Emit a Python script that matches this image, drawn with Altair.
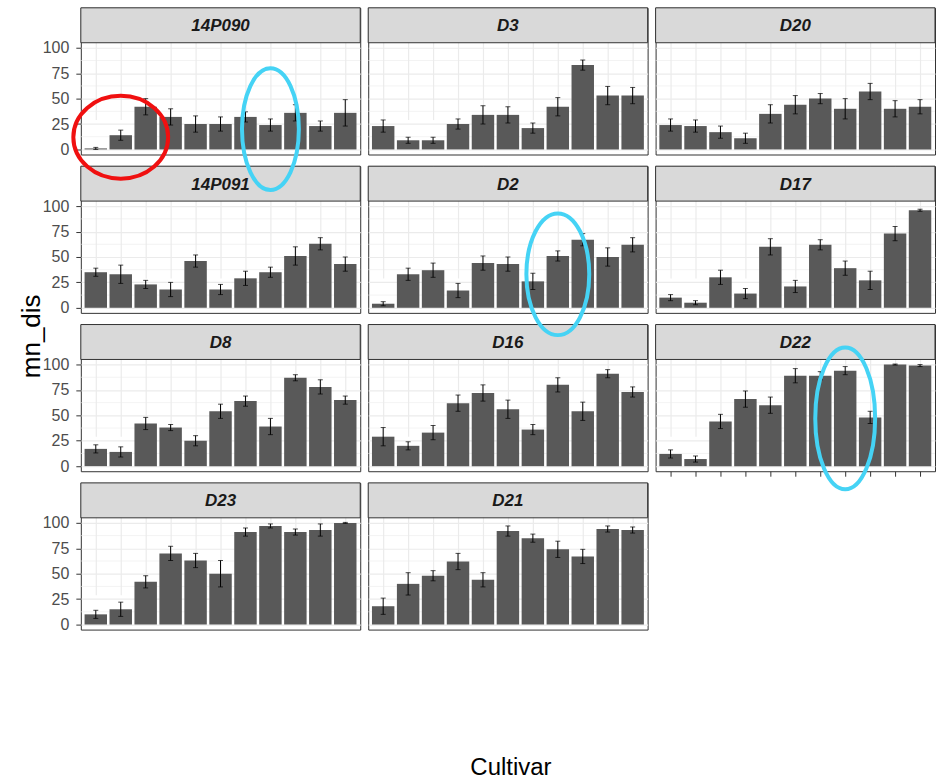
import altair as alt
import pandas as pd

# ---------------- data ----------------
cultivars = ["C01", "C02", "C03", "C04", "C05", "C06", "C07", "C08", "C09", "C10", "C11"]
panel_order = ["14P090", "D3", "D20", "14P091", "D2", "D17", "D8", "D16", "D22", "D23", "D21"]

mn_14P090 = [1, 14, 42, 32, 25, 25, 32, 24, 36, 23, 36]
se_14P090 = [1, 5, 8, 8, 8, 7, 5, 6, 8, 5, 13]
mn_D3 = [23, 9, 9, 25, 34, 34, 21, 42, 83, 53, 53]
se_D3 = [6, 3, 3, 5, 9, 8, 5, 9, 5, 9, 8]
mn_D20 = [24, 23, 17, 11, 35, 44, 50, 40, 57, 40, 42]
se_D20 = [6, 6, 6, 5, 9, 9, 5, 10, 8, 8, 7]
mn_14P091 = [35, 33, 23, 18, 46, 18, 29, 35, 51, 63, 43]
se_14P091 = [4, 9, 4, 7, 6, 5, 7, 5, 9, 6, 7]
mn_D2 = [4, 33, 37, 17, 44, 43, 26, 51, 67, 50, 62]
se_D2 = [2, 6, 7, 7, 7, 7, 8, 5, 6, 9, 7]
mn_D17 = [10, 5, 30, 14, 60, 21, 62, 39, 27, 73, 96]
se_D17 = [3, 2, 7, 5, 8, 6, 5, 7, 9, 7, 1]
mn_D8 = [17, 14, 42, 38, 25, 54, 64, 39, 87, 78, 65]
se_D8 = [4, 5, 6, 3, 5, 7, 5, 8, 3, 7, 4]
mn_D16 = [29, 20, 33, 62, 72, 56, 36, 80, 54, 91, 73]
se_D16 = [9, 4, 7, 8, 8, 9, 5, 7, 9, 4, 5]
mn_D22 = [12, 7, 44, 66, 60, 89, 89, 94, 48, 100, 99]
se_D22 = [4, 3, 7, 8, 8, 7, 4, 4, 6, 0.5, 1]
mn_D23 = [10, 15, 42, 70, 63, 50, 91, 97, 91, 93, 100]
se_D23 = [4, 7, 6, 7, 7, 13, 4, 2, 3, 6, 0.5]
mn_D21 = [18, 40, 48, 62, 44, 92, 85, 74, 67, 94, 93]
se_D21 = [8, 11, 5, 8, 7, 5, 4, 8, 7, 3, 3]

mn = {"14P090": mn_14P090, "D3": mn_D3, "D20": mn_D20, "14P091": mn_14P091,
      "D2": mn_D2, "D17": mn_D17, "D8": mn_D8, "D16": mn_D16, "D22": mn_D22,
      "D23": mn_D23, "D21": mn_D21}
se = {"14P090": se_14P090, "D3": se_D3, "D20": se_D20, "14P091": se_14P091,
      "D2": se_D2, "D17": se_D17, "D8": se_D8, "D16": se_D16, "D22": se_D22,
      "D23": se_D23, "D21": se_D21}

major_breaks = [0, 25, 50, 75, 100]
minor_breaks = [12.5, 37.5, 62.5, 87.5]

# hand-drawn highlight ellipses: (panel, cultivar, centre value)
ellipse_panel = ["14P090", "14P090", "D2", "D22"]
ellipse_cultivar = ["C02", "C08", "C08", "C08"]
ellipse_value = [12, 20, 33, 47]

# ---------------- style / layout ----------------
W, PH, SH = 280, 112, 35
CH = PH + SH
COLGAP, ROWGAP = 8, 11.7
Y_DOMAIN = [-5, 105]
PX_PER_UNIT = PH / (Y_DOMAIN[1] - Y_DOMAIN[0])
FONT = "Liberation Sans"
BAR = "#595959"
GRID = "#EBEBEB"
BORDER = "#333333"
ellipse_style = [  # width px, height px, colour
    (95, 83, "#F01010"),
    (57, 122, "#45D3F5"),
    (63, 122, "#45D3F5"),
    (60, 142, "#45D3F5"),
]


def ellipse_path(w, h):
    m = max(w, h)
    a, b = w / m, h / m
    k = 0.5523
    return (f"M {a} 0 C {a} {k*b} {k*a} {b} 0 {b} C {-k*a} {b} {-a} {k*b} {-a} 0 "
            f"C {-a} {-k*b} {-k*a} {-b} 0 {-b} C {k*a} {-b} {a} {-k*b} {a} 0 Z")


# The ellipses overlap the strip of the panel below; to keep them on top they are
# rendered by the panel directly below (same column, same x scale), with the centre
# value shifted by exactly one row of the layout.
def ellipse_host(i):
    idx = panel_order.index(ellipse_panel[i])
    below = idx + 3
    if below < len(panel_order):
        shift = (CH + ROWGAP) / PX_PER_UNIT
        return panel_order[below], ellipse_value[i] + shift
    return ellipse_panel[i], ellipse_value[i]


def make_panel(name, col, row, bottom_ticks):
    df = pd.DataFrame({"Cultivar": cultivars, "mn_dis": mn[name], "se": se[name]})
    df["lo"] = df["mn_dis"] - df["se"]
    df["hi"] = df["mn_dis"] + df["se"]

    xscale = alt.Scale(domain=cultivars, paddingInner=0.1, paddingOuter=0.15)
    xaxis = alt.Axis(title=None, labels=False, ticks=bottom_ticks, tickSize=5,
                     tickColor=BORDER, domain=False, grid=True,
                     gridColor=GRID, gridWidth=1.2)
    # plot occupies the lower PH pixels, strip the upper SH pixels
    yscale = alt.Scale(domain=Y_DOMAIN, nice=False, range=[CH, SH])
    is_title_panel = (col == 0 and row == 1)
    yaxis_kw = dict(values=major_breaks, labels=(col == 0), ticks=(col == 0),
                    tickSize=5, tickColor=BORDER, labelPadding=7, domain=False,
                    labelOverlap=False, grid=True, gridColor=GRID, gridWidth=1.2)
    if is_title_panel:
        yaxis_kw.update(title="mn_dis", titleFont=FONT, titleFontSize=26,
                        titleFontWeight="normal", titleColor="black",
                        titleAngle=270, titleAlign="center", titleBaseline="middle",
                        titleX=-49, titleY=170)
    else:
        yaxis_kw.update(title=None)
    yaxis = alt.Axis(**yaxis_kw)

    def X():
        return alt.X("Cultivar:N", sort=cultivars, scale=xscale, axis=xaxis)

    def Y(field):
        return alt.Y(field, scale=yscale, axis=yaxis)

    base = alt.Chart(df)
    minor = alt.Chart(pd.DataFrame({"m": minor_breaks})).mark_rule(
        color=GRID, strokeWidth=0.6).encode(y=Y("m:Q"))
    bars = base.mark_bar(color=BAR).encode(x=X(), y=Y("mn_dis:Q"), y2=alt.datum(0))
    err = base.mark_rule(color="black", strokeWidth=1).encode(
        x=X(), y=Y("lo:Q"), y2="hi:Q")
    cap_lo = base.mark_tick(color="black", size=5, thickness=1).encode(
        x=X(), y=Y("lo:Q"))
    cap_hi = base.mark_tick(color="black", size=5, thickness=1).encode(
        x=X(), y=Y("hi:Q"))

    lab = pd.DataFrame({"label": [name]})
    strip_bg = alt.Chart(lab).mark_rect(
        fill="#D9D9D9", stroke=BORDER, strokeWidth=1).encode(
        x=alt.value(0), x2=alt.value(W), y=alt.value(0), y2=alt.value(SH))
    strip_txt = alt.Chart(lab).mark_text(
        font=FONT, fontSize=17, fontWeight="bold", fontStyle="italic",
        color="#1A1A1A", baseline="middle").encode(
        text="label:N", x=alt.value(W / 2), y=alt.value(SH / 2 + 1))

    layers = [minor, bars, err, cap_lo, cap_hi, strip_bg, strip_txt]

    for i in range(len(ellipse_panel)):
        host, v = ellipse_host(i)
        if host != name:
            continue
        w, h, c = ellipse_style[i]
        edf = pd.DataFrame({"Cultivar": [ellipse_cultivar[i]], "v": [v]})
        layers.append(alt.Chart(edf).mark_point(
            shape=ellipse_path(w, h), size=max(w, h) ** 2, filled=False,
            stroke=c, strokeWidth=4, opacity=1, clip=False).encode(
            x=X(), y=Y("v:Q")))

    return alt.layer(*layers).properties(
        width=W, height=CH,
        view=alt.ViewBackground(fill="white", stroke=BORDER, strokeWidth=1))


cells = []
for idx, name in enumerate(panel_order):
    r, c = divmod(idx, 3)
    bottom = name == "D22"
    cells.append(make_panel(name, c, r, bottom))

chart = alt.concat(
    *cells, columns=3, spacing={"row": ROWGAP, "column": COLGAP}, bounds="flush"
).properties(
    title=alt.TitleParams("Cultivar", orient="bottom", anchor="middle", frame="group",
                          font=FONT, fontSize=24, fontWeight="normal", color="black",
                          offset=123, dx=431),
    padding={"left": 18, "top": 6, "right": 0, "bottom": 0},
).configure(background="white").configure_axis(
    labelFont=FONT, labelFontSize=16, labelColor="#4D4D4D"
)

chart.save("out.html", embed_options={"renderer": "svg", "actions": False})
